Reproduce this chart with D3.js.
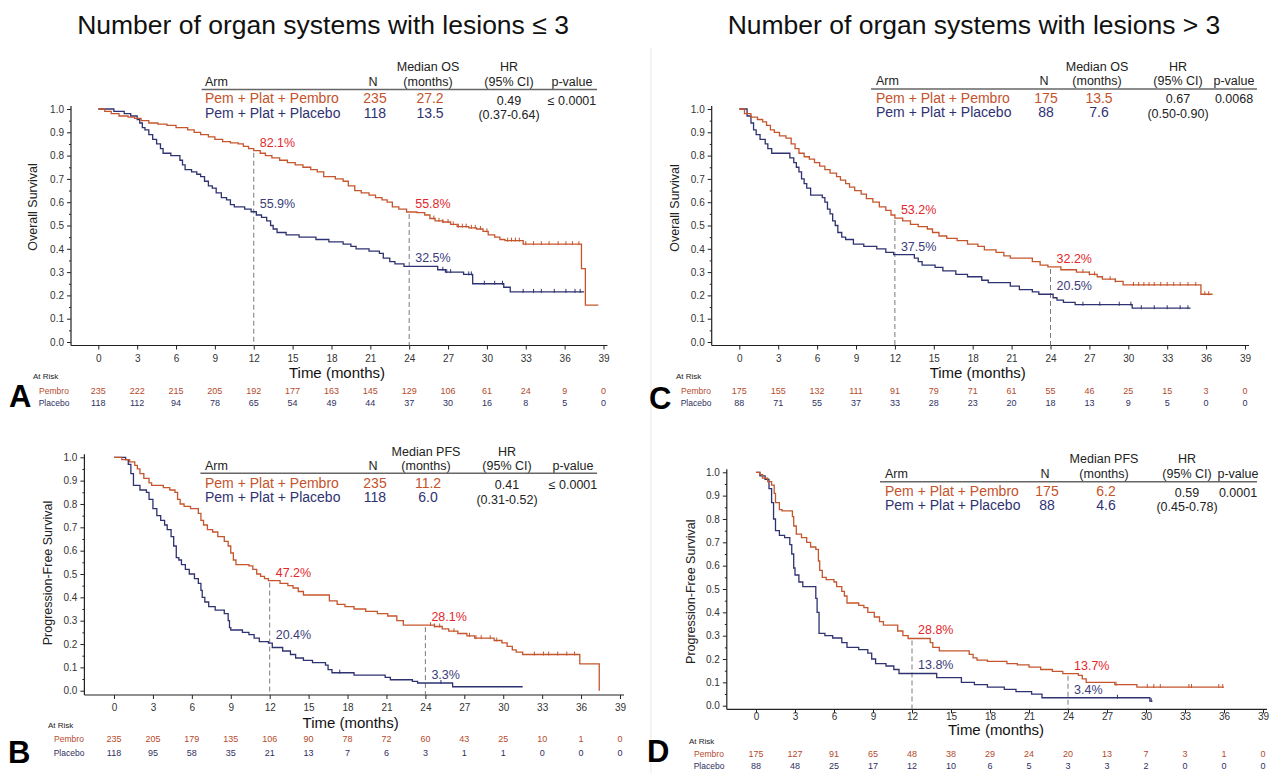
<!DOCTYPE html>
<html>
<head>
<meta charset="utf-8">
<script src="https://cdn.jsdelivr.net/npm/d3@7"></script>
<style>
  body { margin: 0; background: #fff; }
  svg { display: block; font-family: "Liberation Sans", Arial, Helvetica, sans-serif; }
</style>
</head>
<body>
<svg id="chart" width="1271" height="773"></svg>
<script>
// ---- data ----
const titles = ["Number of organ systems with lesions \u2264 3", "Number of organ systems with lesions > 3"];
const months = d3.range(0, 40, 3);
const armNames = ["Pem + Plat + Pembro", "Pem + Plat + Placebo"];

// Kaplan-Meier steps: [month, survival after the drop]; last point = end of follow-up
const aPem = [[0,1],[0.5,0.99],[1.0,0.98],[1.6,0.97],[2.3,0.965],[2.8,0.96],[3.3,0.95],[3.9,0.94],[4.6,0.935],[5.3,0.93],[6.0,0.92],[6.9,0.91],[7.4,0.90],[7.9,0.89],[8.5,0.88],[9.0,0.87],[9.6,0.86],[10.2,0.855],[10.8,0.85],[11.2,0.84],[11.6,0.83],[12.0,0.821],[12.5,0.81],[12.9,0.80],[13.4,0.79],[14.0,0.78],[14.6,0.77],[15.2,0.76],[15.8,0.75],[16.4,0.74],[16.9,0.73],[17.4,0.71],[18.3,0.70],[18.9,0.69],[19.3,0.67],[19.8,0.65],[20.3,0.64],[20.9,0.63],[21.4,0.62],[21.9,0.61],[22.3,0.60],[22.7,0.58],[23.2,0.57],[23.8,0.558],[24.6,0.555],[25.2,0.545],[25.6,0.53],[26.0,0.52],[26.6,0.515],[27.2,0.505],[27.7,0.495],[28.6,0.49],[29.2,0.485],[29.7,0.475],[30.1,0.46],[30.6,0.45],[31.0,0.44],[31.4,0.435],[32.8,0.42],[37.3,0.315],[37.6,0.158],[38.6,0.158]];
const aPla = [[0,1],[1.2,0.99],[2.0,0.98],[2.5,0.97],[3.0,0.955],[3.2,0.94],[3.4,0.92],[3.6,0.91],[3.9,0.89],[4.2,0.87],[4.5,0.85],[4.8,0.83],[5.0,0.81],[5.6,0.80],[6.3,0.78],[6.5,0.76],[6.7,0.74],[7.2,0.73],[7.6,0.72],[7.9,0.71],[8.2,0.69],[8.5,0.67],[8.8,0.66],[9.1,0.64],[9.5,0.62],[9.9,0.61],[10.2,0.59],[10.5,0.58],[11.3,0.57],[11.8,0.559],[12.2,0.545],[12.6,0.535],[13.0,0.52],[13.3,0.50],[13.5,0.485],[13.8,0.47],[14.5,0.46],[15.5,0.45],[16.8,0.44],[17.8,0.43],[18.9,0.42],[19.5,0.41],[19.9,0.40],[20.9,0.39],[21.7,0.38],[22.0,0.36],[22.5,0.345],[22.9,0.335],[23.6,0.325],[26.2,0.31],[26.8,0.30],[28.2,0.29],[28.9,0.25],[31.3,0.235],[31.8,0.215],[37.5,0.215]];
const bPem = [[0,1],[0.6,0.99],[1.2,0.98],[1.6,0.965],[1.8,0.95],[2.0,0.93],[2.3,0.91],[2.7,0.89],[2.9,0.88],[3.8,0.87],[4.3,0.86],[4.7,0.85],[4.9,0.82],[5.1,0.80],[5.4,0.79],[5.9,0.78],[6.5,0.76],[6.7,0.73],[6.9,0.71],[7.2,0.69],[7.6,0.68],[8.0,0.66],[8.5,0.64],[8.8,0.62],[9.0,0.59],[9.2,0.56],[9.4,0.54],[10.4,0.535],[10.7,0.52],[11.0,0.50],[11.3,0.49],[11.6,0.48],[11.9,0.472],[12.8,0.46],[13.4,0.45],[13.8,0.44],[14.2,0.425],[14.6,0.41],[16.6,0.385],[17.2,0.37],[17.8,0.36],[18.5,0.35],[19.4,0.34],[20.3,0.33],[21.1,0.32],[21.8,0.30],[22.3,0.281],[24.7,0.275],[25.3,0.265],[25.8,0.255],[26.5,0.245],[27.2,0.235],[27.8,0.225],[29.3,0.215],[29.9,0.205],[30.3,0.19],[30.7,0.175],[31.0,0.165],[31.5,0.155],[35.9,0.115],[37.4,0]];
const bPla = [[0,1],[0.9,0.99],[1.1,0.97],[1.3,0.93],[1.5,0.88],[2.0,0.86],[2.5,0.85],[2.7,0.82],[3.0,0.78],[3.3,0.75],[3.6,0.73],[3.9,0.71],[4.1,0.69],[4.4,0.66],[4.6,0.62],[4.8,0.57],[5.0,0.56],[5.2,0.54],[5.5,0.52],[5.8,0.50],[6.2,0.48],[6.5,0.46],[6.7,0.43],[6.8,0.40],[7.0,0.38],[7.3,0.36],[7.8,0.345],[8.5,0.33],[8.8,0.30],[8.9,0.27],[9.0,0.26],[9.9,0.25],[10.4,0.24],[10.8,0.225],[11.2,0.21],[11.9,0.204],[12.2,0.185],[13.0,0.17],[13.6,0.155],[14.0,0.14],[14.6,0.13],[15.3,0.12],[16.3,0.11],[16.5,0.09],[16.8,0.077],[18.5,0.067],[20.9,0.057],[21.3,0.047],[23.0,0.04],[23.4,0.033],[26.1,0.017],[31.5,0.017]];
const cPem = [[0,1],[0.4,0.98],[0.9,0.965],[1.4,0.955],[1.8,0.945],[2.1,0.93],[2.4,0.91],[2.7,0.90],[3.1,0.885],[3.6,0.875],[4.0,0.85],[4.3,0.83],[4.6,0.81],[5.0,0.795],[5.4,0.785],[5.8,0.77],[6.2,0.755],[6.6,0.74],[7.0,0.725],[7.5,0.71],[7.8,0.695],[8.2,0.68],[8.5,0.665],[8.9,0.65],[9.4,0.635],[9.8,0.615],[10.3,0.60],[10.8,0.58],[11.3,0.565],[11.7,0.545],[12.0,0.532],[12.6,0.52],[13.2,0.505],[13.8,0.495],[14.5,0.485],[14.9,0.47],[15.4,0.455],[16.0,0.445],[16.8,0.435],[17.6,0.42],[18.4,0.41],[18.9,0.395],[19.8,0.385],[20.4,0.37],[20.9,0.36],[22.6,0.345],[23.2,0.33],[23.8,0.322],[24.8,0.31],[26.0,0.30],[27.0,0.29],[27.6,0.28],[28.0,0.27],[29.0,0.26],[29.6,0.245],[35.6,0.205],[36.5,0.205]];
const cPla = [[0,1],[0.6,0.97],[0.9,0.94],[1.1,0.91],[1.3,0.89],[1.6,0.87],[2.0,0.85],[2.2,0.83],[2.5,0.81],[3.9,0.79],[4.2,0.77],[4.4,0.75],[4.6,0.73],[4.8,0.70],[5.0,0.68],[5.2,0.66],[5.5,0.63],[6.4,0.62],[6.6,0.60],[6.8,0.57],[7.0,0.55],[7.2,0.52],[7.4,0.50],[7.6,0.47],[7.9,0.45],[8.2,0.44],[8.8,0.42],[9.6,0.41],[10.6,0.40],[11.3,0.385],[11.9,0.375],[13.5,0.36],[13.8,0.345],[14.1,0.33],[15.1,0.32],[15.7,0.305],[16.7,0.29],[17.6,0.28],[18.7,0.265],[19.2,0.255],[20.9,0.24],[21.6,0.225],[22.6,0.215],[23.1,0.205],[24.2,0.19],[24.5,0.18],[25.0,0.17],[25.9,0.16],[30.3,0.145],[34.8,0.145]];
const dPem = [[0,1],[0.3,0.99],[0.5,0.975],[0.9,0.96],[1.2,0.945],[1.4,0.91],[1.5,0.87],[1.8,0.84],[2.0,0.835],[2.8,0.81],[2.9,0.77],[3.1,0.735],[3.5,0.72],[3.9,0.70],[4.2,0.68],[4.6,0.67],[4.8,0.62],[4.9,0.58],[5.1,0.55],[5.4,0.54],[6.0,0.53],[6.2,0.51],[6.6,0.49],[6.8,0.47],[7.0,0.44],[7.9,0.43],[8.3,0.42],[8.6,0.40],[9.1,0.38],[9.5,0.36],[9.8,0.345],[10.9,0.32],[11.3,0.30],[11.7,0.288],[13.4,0.27],[13.6,0.25],[14.1,0.235],[16.4,0.22],[16.7,0.205],[17.0,0.195],[17.8,0.19],[19.3,0.18],[20.1,0.175],[21.0,0.165],[21.9,0.155],[22.8,0.147],[23.6,0.137],[24.8,0.13],[25.1,0.115],[25.4,0.10],[27.6,0.09],[29.3,0.08],[36.0,0.08]];
const dPla = [[0,1],[0.3,0.985],[0.7,0.97],[1.0,0.93],[1.2,0.87],[1.35,0.80],[1.5,0.75],[1.8,0.73],[2.2,0.72],[2.6,0.69],[2.75,0.65],[2.9,0.59],[3.0,0.56],[3.3,0.53],[3.6,0.51],[4.6,0.46],[4.7,0.40],[4.85,0.31],[5.3,0.30],[5.9,0.29],[6.6,0.27],[7.0,0.25],[7.9,0.24],[8.6,0.225],[8.9,0.20],[9.2,0.18],[10.0,0.17],[10.6,0.155],[11.0,0.138],[13.9,0.12],[15.8,0.10],[16.8,0.09],[17.8,0.08],[19.1,0.07],[20.0,0.06],[21.2,0.05],[22.0,0.034],[30.3,0.02],[30.5,0.02]];

// censoring tick times
const aPemCens = [25.9,26.3,26.6,27.0,27.4,27.8,28.1,28.4,28.8,29.1,29.5,30.0,31.6,31.9,32.2,32.5,33.0,33.6,34.2,34.8,35.5,36.1,36.6,37.1];
const aPlaCens = [26.6,26.9,27.2,28.6,28.8,29.8,30.6,31.2,32.8,33.6,34.2,35.2,36.1,36.8,37.2];
const bPemCens = [24.4,24.7,25.1,26.2,27.4,27.9,28.3,29.0,29.5,32.4,33.1,33.5,34.2,34.9,35.5];
const bPlaCens = [17.4,25.2];
const cPemCens = [26.5,27.0,27.4,28.6,29.0,30.4,30.8,31.2,31.6,32.0,32.5,33.0,33.5,34.0,34.6,35.2,35.9,36.2];
const cPlaCens = [26.5,27.8,29.3,30.2,31.0,32.0,33.0,34.0,34.6];
const dPemCens = [27.7,30.1,30.6,31.1,33.3,33.5,35.6,35.9];
const dPlaCens = [27.8,30.4];

// landmark rates: [month, Pembro %, Placebo %]
const aLand = [[12, 82.1, 55.9], [24, 55.8, 32.5]];
const bLand = [[12, 47.2, 20.4], [24, 28.1, 3.3]];
const cLand = [[12, 53.2, 37.5], [24, 32.2, 20.5]];
const dLand = [[12, 28.8, 13.8], [24, 13.7, 3.4]];

// numbers at risk at 0,3,...,39 months
const aRiskPem = [235,222,215,205,192,177,163,145,129,106,61,24,9,0];
const aRiskPla = [118,112,94,78,65,54,49,44,37,30,16,8,5,0];
const bRiskPem = [235,205,179,135,106,90,78,72,60,43,25,10,1,0];
const bRiskPla = [118,95,58,35,21,13,7,6,3,1,1,0,0,0];
const cRiskPem = [175,155,132,111,91,79,71,61,55,46,25,15,3,0];
const cRiskPla = [88,71,55,37,33,28,23,20,18,13,9,5,0,0];
const dRiskPem = [175,127,91,65,48,38,29,24,20,13,7,3,1,0];
const dRiskPla = [88,48,25,17,12,10,6,5,3,3,2,0,0,0];

// summary tables
const aN = [235,118], aMedian = ["27.2","13.5"], aHR = ["0.49","(0.37-0.64)"], aP = "\u2264 0.0001";
const bN = [235,118], bMedian = ["11.2","6.0"], bHR = ["0.41","(0.31-0.52)"], bP = "\u2264 0.0001";
const cN = [175,88], cMedian = ["13.5","7.6"], cHR = ["0.67","(0.50-0.90)"], cP = "0.0068";
const dN = [175,88], dMedian = ["6.2","4.6"], dHR = ["0.59","(0.45-0.78)"], dP = "0.0001";

// ---- styling ----
const col = {
  pemLine: "#c5552d", plaLine: "#2f3271",
  pemText: "#c4532b", plaText: "#2f3271",
  pemPct: "#e3272b", plaPct: "#3b3d7a",
  riskPem: "#b44a2c", riskPla: "#2f3062",
  axis: "#222", tick: "#333"
};

const panels = [
  { letter: "A", pem: aPem, pla: aPla, pemC: aPemCens, plaC: aPlaCens, rPem: aRiskPem, rPla: aRiskPla, land: aLand,
    yLabel: "Overall Survival", med: "Median OS", n: aN, median: aMedian, hr: aHR, p: aP,
    g: { x0: 98.3, x39: 603.5, yTop: 109, yBot: 342, axisX: 71, axisY: 345.5, tickY: 357.7, timeX: 337, timeY: 372.7,
         atRiskX: 33, atRiskY: 376.7, rowLabelX: 54, pemY: 391, plaY: 403.3, letterX: 9, letterY: 407, yLabX: 33, yLabY: 207,
         t: { armX: 205, lx1: 201.6, lx2: 597, ly: 89.5, h1: 67, h2: 82, r1: 98.3, r2: 112.7, hrY: 100.7, ciY: 115.3, nX: 373, medX: 428, hrX: 509, pX: 572 } } },
  { letter: "B", pem: bPem, pla: bPla, pemC: bPemCens, plaC: bPlaCens, rPem: bRiskPem, rPla: bRiskPla, land: bLand,
    yLabel: "Progression-Free Survival", med: "Median PFS", n: bN, median: bMedian, hr: bHR, p: bP,
    g: { x0: 114, x39: 620, yTop: 457.3, yBot: 690.7, axisX: 84.4, axisY: 695, tickY: 706.7, timeX: 350.6, timeY: 722.7,
         atRiskX: 48, atRiskY: 725, rowLabelX: 69, pemY: 739.3, plaY: 752.7, letterX: 8, letterY: 763, yLabX: 47.5, yLabY: 573,
         t: { armX: 205, lx1: 200.4, lx2: 597, ly: 473.3, h1: 451.7, h2: 466, r1: 482.7, r2: 497.3, hrY: 485, ciY: 500, nX: 373, medX: 426, hrX: 507, pX: 573 } } },
  { letter: "C", pem: cPem, pla: cPla, pemC: cPemCens, plaC: cPlaCens, rPem: cRiskPem, rPla: cRiskPla, land: cLand,
    yLabel: "Overall Survival", med: "Median OS", n: cN, median: cMedian, hr: cHR, p: cP,
    g: { x0: 739.3, x39: 1245, yTop: 109, yBot: 342, axisX: 711.7, axisY: 345.5, tickY: 357.7, timeX: 977.7, timeY: 372.7,
         atRiskX: 676, atRiskY: 376, rowLabelX: 696, pemY: 390.7, plaY: 403, letterX: 649, letterY: 409, yLabX: 674.6, yLabY: 208,
         t: { armX: 876, lx1: 871, lx2: 1257, ly: 89, h1: 66.7, h2: 80.7, r1: 97.7, r2: 112.3, hrY: 99.3, ciY: 114.3, nX: 1044, medX: 1097, hrX: 1178, pX: 1234 } } },
  { letter: "D", pem: dPem, pla: dPla, pemC: dPemCens, plaC: dPlaCens, rPem: dRiskPem, rPla: dRiskPla, land: dLand,
    yLabel: "Progression-Free Survival", med: "Median PFS", n: dN, median: dMedian, hr: dHR, p: dP,
    g: { x0: 756, x39: 1263, yTop: 472.3, yBot: 705.7, axisX: 726.8, axisY: 709.3, tickY: 716, timeX: 996, timeY: 729.5,
         atRiskX: 689, atRiskY: 741, rowLabelX: 709, pemY: 753.5, plaY: 765.5, letterX: 647, letterY: 762, yLabX: 691, yLabY: 591.7,
         t: { armX: 885, lx1: 880, lx2: 1257, ly: 481.7, h1: 459.3, h2: 474, r1: 490.7, r2: 505, hrY: 492.7, ciY: 507.3, nX: 1045, medX: 1104, hrX: 1187, pX: 1238 } } }
];

const svg = d3.select("#chart");

// faint divider between left and right columns
svg.append("line").attr("x1", 651).attr("x2", 651).attr("y1", 48).attr("y2", 773)
  .attr("stroke", "#ececec").attr("stroke-width", 1.2);

// column titles
svg.selectAll(".title").data(titles).enter().append("text")
  .attr("class", "title")
  .attr("x", (d, i) => i === 0 ? 323 : 974)
  .attr("y", 34)
  .attr("text-anchor", "middle")
  .style("font-size", "26.5px")
  .attr("fill", "#111")
  .text(d => d);

const survAt = (curve, t) => {
  let s = curve[0][1];
  for (const [tt, v] of curve) {
    if (tt <= t) s = v; else break;
  }
  return s;
};

const drawPanel = (p) => {
  const g = p.g;
  const x = d3.scaleLinear().domain([0, 39]).range([g.x0, g.x39]);
  const y = d3.scaleLinear().domain([0, 1]).range([g.yBot, g.yTop]);
  const root = svg.append("g").attr("class", "panel-" + p.letter);

  // axis lines
  root.append("line").attr("x1", g.axisX).attr("x2", g.axisX).attr("y1", y(1) - 3).attr("y2", g.axisY)
    .attr("stroke", col.axis).attr("stroke-width", 1.2);
  root.append("line").attr("x1", g.axisX).attr("x2", x(39) + 4).attr("y1", g.axisY).attr("y2", g.axisY)
    .attr("stroke", col.axis).attr("stroke-width", 1.2);

  // y ticks
  const yAxis = root.append("g").attr("transform", `translate(${g.axisX},0)`)
    .call(d3.axisLeft(y).tickValues(d3.range(0, 11).map(d => d / 10)).tickFormat(d3.format(".1f")).tickSize(4).tickPadding(3));
  yAxis.select(".domain").remove();
  yAxis.selectAll("line").attr("stroke", col.axis);
  yAxis.selectAll("text").style("font-size", "10px").attr("fill", col.tick).style("font-family", "inherit");
  const yMinor = root.append("g").attr("transform", `translate(${g.axisX},0)`)
    .call(d3.axisLeft(y).tickValues(d3.range(0, 10).map(d => d / 10 + 0.05)).tickFormat("").tickSize(2));
  yMinor.select(".domain").remove();
  yMinor.selectAll("line").attr("stroke", col.axis);

  // x ticks
  const xAxis = root.append("g").attr("transform", `translate(0,${g.axisY})`)
    .call(d3.axisBottom(x).tickValues(months).tickSize(4).tickFormat(d3.format("d")).tickPadding(g.tickY - g.axisY - 7));
  xAxis.select(".domain").remove();
  xAxis.selectAll("line").attr("stroke", col.axis);
  xAxis.selectAll("text").style("font-size", "10px").attr("fill", col.tick).style("font-family", "inherit");

  // axis titles
  root.append("text")
    .attr("transform", `translate(${g.yLabX},${g.yLabY}) rotate(-90)`)
    .attr("text-anchor", "middle").attr("dominant-baseline", "central")
    .style("font-size", "12.5px").attr("fill", "#222").text(p.yLabel);
  root.append("text").attr("x", g.timeX).attr("y", g.timeY)
    .attr("text-anchor", "middle").attr("dominant-baseline", "central")
    .style("font-size", "15px").attr("fill", "#111").text("Time (months)");

  // landmark dashed lines
  p.land.forEach(([m, a, b]) => {
    root.append("line").attr("x1", x(m)).attr("x2", x(m)).attr("y1", y(Math.max(a, b) / 100) + 2).attr("y2", g.axisY)
      .attr("stroke", "#7a7a7a").attr("stroke-width", 1).attr("stroke-dasharray", "5,3");
  });

  // curves
  const line = d3.line().x(d => x(d[0])).y(d => y(d[1])).curve(d3.curveStepAfter);
  [[p.pla, col.plaLine, p.plaC], [p.pem, col.pemLine, p.pemC]].forEach(([curve, c, cens]) => {
    root.append("path").datum(curve).attr("d", line)
      .attr("fill", "none").attr("stroke", c).attr("stroke-width", 1.3);
    root.selectAll(null).data(cens).enter().append("line")
      .attr("x1", d => x(d)).attr("x2", d => x(d))
      .attr("y1", d => y(survAt(curve, d)) - 3).attr("y2", d => y(survAt(curve, d)) + 1)
      .attr("stroke", c).attr("stroke-width", 1);
  });

  // landmark percentage labels
  p.land.forEach(([m, a, b]) => {
    [[a, col.pemPct], [b, col.plaPct]].forEach(([v, c]) => {
      root.append("text").attr("x", x(m) + 6).attr("y", y(v / 100) - 8)
        .attr("dominant-baseline", "central")
        .style("font-size", "12.5px").attr("fill", c)
        .text(d3.format(".1f")(v) + "%");
    });
  });

  // summary table
  const t = g.t;
  const tx = (xx, yy, txt, fill, size, anchor) => root.append("text")
    .attr("x", xx).attr("y", yy).attr("dominant-baseline", "central")
    .attr("text-anchor", anchor || "middle").style("font-size", size).attr("fill", fill).text(txt);
  tx(t.armX, t.h2, "Arm", "#222", "12.5px", "start");
  tx(t.nX, t.h2, "N", "#222", "12.5px");
  tx(t.medX, t.h1, p.med, "#222", "12.5px");
  tx(t.medX, t.h2, "(months)", "#222", "12.5px");
  tx(t.hrX, t.h1, "HR", "#222", "12.5px");
  tx(t.hrX, t.h2, "(95% CI)", "#222", "12.5px");
  tx(t.pX, t.h2, "p-value", "#222", "12.5px");
  root.append("line").attr("x1", t.lx1).attr("x2", t.lx2).attr("y1", t.ly).attr("y2", t.ly)
    .attr("stroke", "#666").attr("stroke-width", 1.5);
  [t.r1, t.r2].forEach((ry, i) => {
    const c = i === 0 ? col.pemText : col.plaText;
    tx(t.armX, ry, armNames[i], c, "14px", "start");
    tx(t.nX + 2, ry, p.n[i], c, "14px");
    tx(t.medX + 2, ry, p.median[i], c, "14px");
  });
  tx(t.hrX, t.hrY, p.hr[0], "#222", "12.5px");
  tx(t.hrX, t.ciY, p.hr[1], "#222", "12.5px");
  tx(t.pX, t.hrY, p.p, "#222", "12.5px");

  // numbers at risk
  root.append("text").attr("x", g.atRiskX).attr("y", g.atRiskY).attr("dominant-baseline", "central")
    .style("font-size", "8px").attr("fill", "#222").text("At Risk");
  [["Pembro", p.rPem, g.pemY, col.riskPem], ["Placebo", p.rPla, g.plaY, col.riskPla]].forEach(([lab, vals, ry, c]) => {
    root.append("text").attr("x", g.rowLabelX).attr("y", ry).attr("dominant-baseline", "central")
      .attr("text-anchor", "middle").style("font-size", "8.5px").attr("fill", c).text(lab);
    root.selectAll(null).data(vals).enter().append("text")
      .attr("x", (d, i) => x(months[i])).attr("y", ry).attr("dominant-baseline", "central")
      .attr("text-anchor", "middle").style("font-size", "9px").attr("fill", c).text(d => d);
  });

  // panel letter
  root.append("text").attr("x", g.letterX).attr("y", g.letterY)
    .style("font-size", "31px").style("font-weight", "bold").attr("fill", "#000").text(p.letter);
};

panels.forEach(drawPanel);
</script>
</body>
</html>
